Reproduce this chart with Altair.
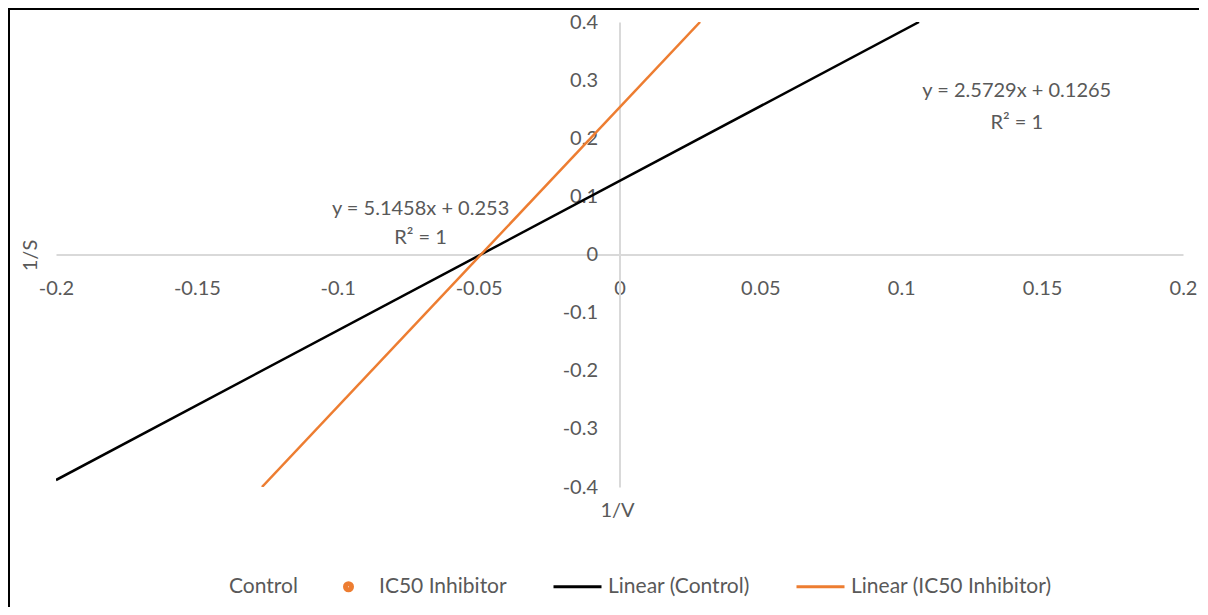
import altair as alt
import pandas as pd

# Trendline endpoints
series_names = ["Linear (Control)", "Linear (IC50 Inhibitor)"]
control_x = [-0.2, 0.1063]
control_y = [-0.388, 0.4]
inhib_x = [-0.1269, 0.0286]
inhib_y = [-0.4, 0.4]

# Equation labels
label_text = ["y = 5.1458x + 0.253", "R² = 1", "y = 2.5729x + 0.1265", "R² = 1"]
label_x = [-0.0706, -0.0706, 0.141, 0.141]
label_y = [0.0775, 0.029, 0.2805, 0.227]

legend_names = ["Control", "IC50 Inhibitor", "Linear (Control)", "Linear (IC50 Inhibitor)"]
legend_colors = ["transparent", "#ED7D31", "#000000", "#ED7D31"]
DOT = ("M-1,0a1,1 0 1,0 2,0a1,1 0 1,0 -2,0"
       "M-0.5,0a0.5,0.5 0 1,0 1,0a0.5,0.5 0 1,0 -1,0")
LINE = "M-6,0H6"
legend_shapes = [DOT, DOT, LINE, LINE]

x_ticks = [-0.2, -0.15, -0.1, -0.05, 0, 0.05, 0.1, 0.15, 0.2]
y_ticks = [-0.4, -0.3, -0.2, -0.1, 0, 0.1, 0.2, 0.3, 0.4]

FONT = "Lato"
GREY = "#595959"
FS = 20
W, H = 1127, 465
LABEL_EXPR = "replace(format(datum.value, '~g'), '\u2212', '-')"

lines_df = pd.DataFrame({
    "x": control_x + inhib_x,
    "y": control_y + inhib_y,
    "series": [series_names[0]] * 2 + [series_names[1]] * 2,
})
labels_df = pd.DataFrame({"x": label_x, "y": label_y, "text": label_text})
legend_df = pd.DataFrame({"name": legend_names, "x": [None] * 4, "y": [None] * 4})

xscale = alt.Scale(domain=[-0.2, 0.2], nice=False, zero=False)
yscale = alt.Scale(domain=[-0.4, 0.4], nice=False, zero=False)

x_axis = alt.Axis(
    values=x_ticks, offset=-H / 2, grid=False, ticks=False, domainColor="#d9d9d9",
    domainWidth=2, labelPadding=24, labelColor=GREY, labelFontSize=FS, labelFont=FONT,
    labelFlush=False, labelOverlap=False, labelBound=False, labelExpr=LABEL_EXPR,
    title="1/V", titleX=561, titleY=256, titleBaseline="middle", titleColor=GREY,
    titleFontSize=FS, titleFont=FONT, titleFontWeight="normal",
)
y_axis = alt.Axis(
    values=y_ticks, offset=-W / 2, grid=False, ticks=False, domainColor="#d9d9d9",
    domainWidth=2, labelPadding=22, labelColor=GREY, labelFontSize=FS, labelFont=FONT,
    labelFlush=False, labelOverlap=False, labelBound=False, labelExpr=LABEL_EXPR,
    title="1/S", titleX=-589, titleY=233, titleBaseline="middle", titleAngle=270,
    titleColor=GREY, titleFontSize=FS, titleFont=FONT, titleFontWeight="normal",
)

lines = alt.Chart(lines_df).mark_line(strokeWidth=2.5, clip=True).encode(
    x=alt.X("x:Q", scale=xscale, axis=x_axis),
    y=alt.Y("y:Q", scale=yscale, axis=y_axis),
    detail="series:N",
    stroke=alt.Stroke("series:N", scale=alt.Scale(domain=series_names, range=["#000000", "#ED7D31"]), legend=None),
)

labels = alt.Chart(labels_df).mark_text(
    font=FONT, fontSize=FS, color=GREY, align="center", baseline="middle"
).encode(
    x=alt.X("x:Q", scale=xscale),
    y=alt.Y("y:Q", scale=yscale),
    text="text:N",
)

legend_layer = alt.Chart(legend_df).mark_point(filled=False, strokeWidth=3, opacity=1).encode(
    x=alt.X("x:Q", scale=xscale),
    y=alt.Y("y:Q", scale=yscale),
    color=alt.Color("name:N", scale=alt.Scale(domain=legend_names, range=legend_colors),
                    legend=alt.Legend(title=None, orient="none", direction="horizontal",
                                      legendX=132, legendY=554, columns=4, padding=0,
                                      labelFont=FONT, labelFontSize=21, labelColor=GREY,
                                      labelLimit=400, columnPadding=40, labelOffset=20,
                                      symbolStrokeWidth=3, symbolSize=64, symbolOpacity=1)),
    shape=alt.Shape("name:N", scale=alt.Scale(domain=legend_names, range=legend_shapes)),
)

frame_df = pd.DataFrame({"k": [0]})
frame_left = alt.Chart(frame_df).mark_rule(color="#000000", strokeWidth=2).encode(
    x=alt.value(-47), y=alt.value(-14), y2=alt.value(590)
)
frame_top = alt.Chart(frame_df).mark_rule(color="#000000", strokeWidth=2).encode(
    x=alt.value(-48), x2=alt.value(1150), y=alt.value(-13)
)

chart = alt.layer(lines, labels, legend_layer, frame_left, frame_top).properties(
    width=W, height=H,
    autosize=alt.AutoSizeParams(type="none"),
    padding={"left": 48, "top": 14, "right": 16, "bottom": 120},
    background="white",
).configure_view(stroke=None)

chart.save("out.html", embed_options={"renderer": "svg", "actions": False})
